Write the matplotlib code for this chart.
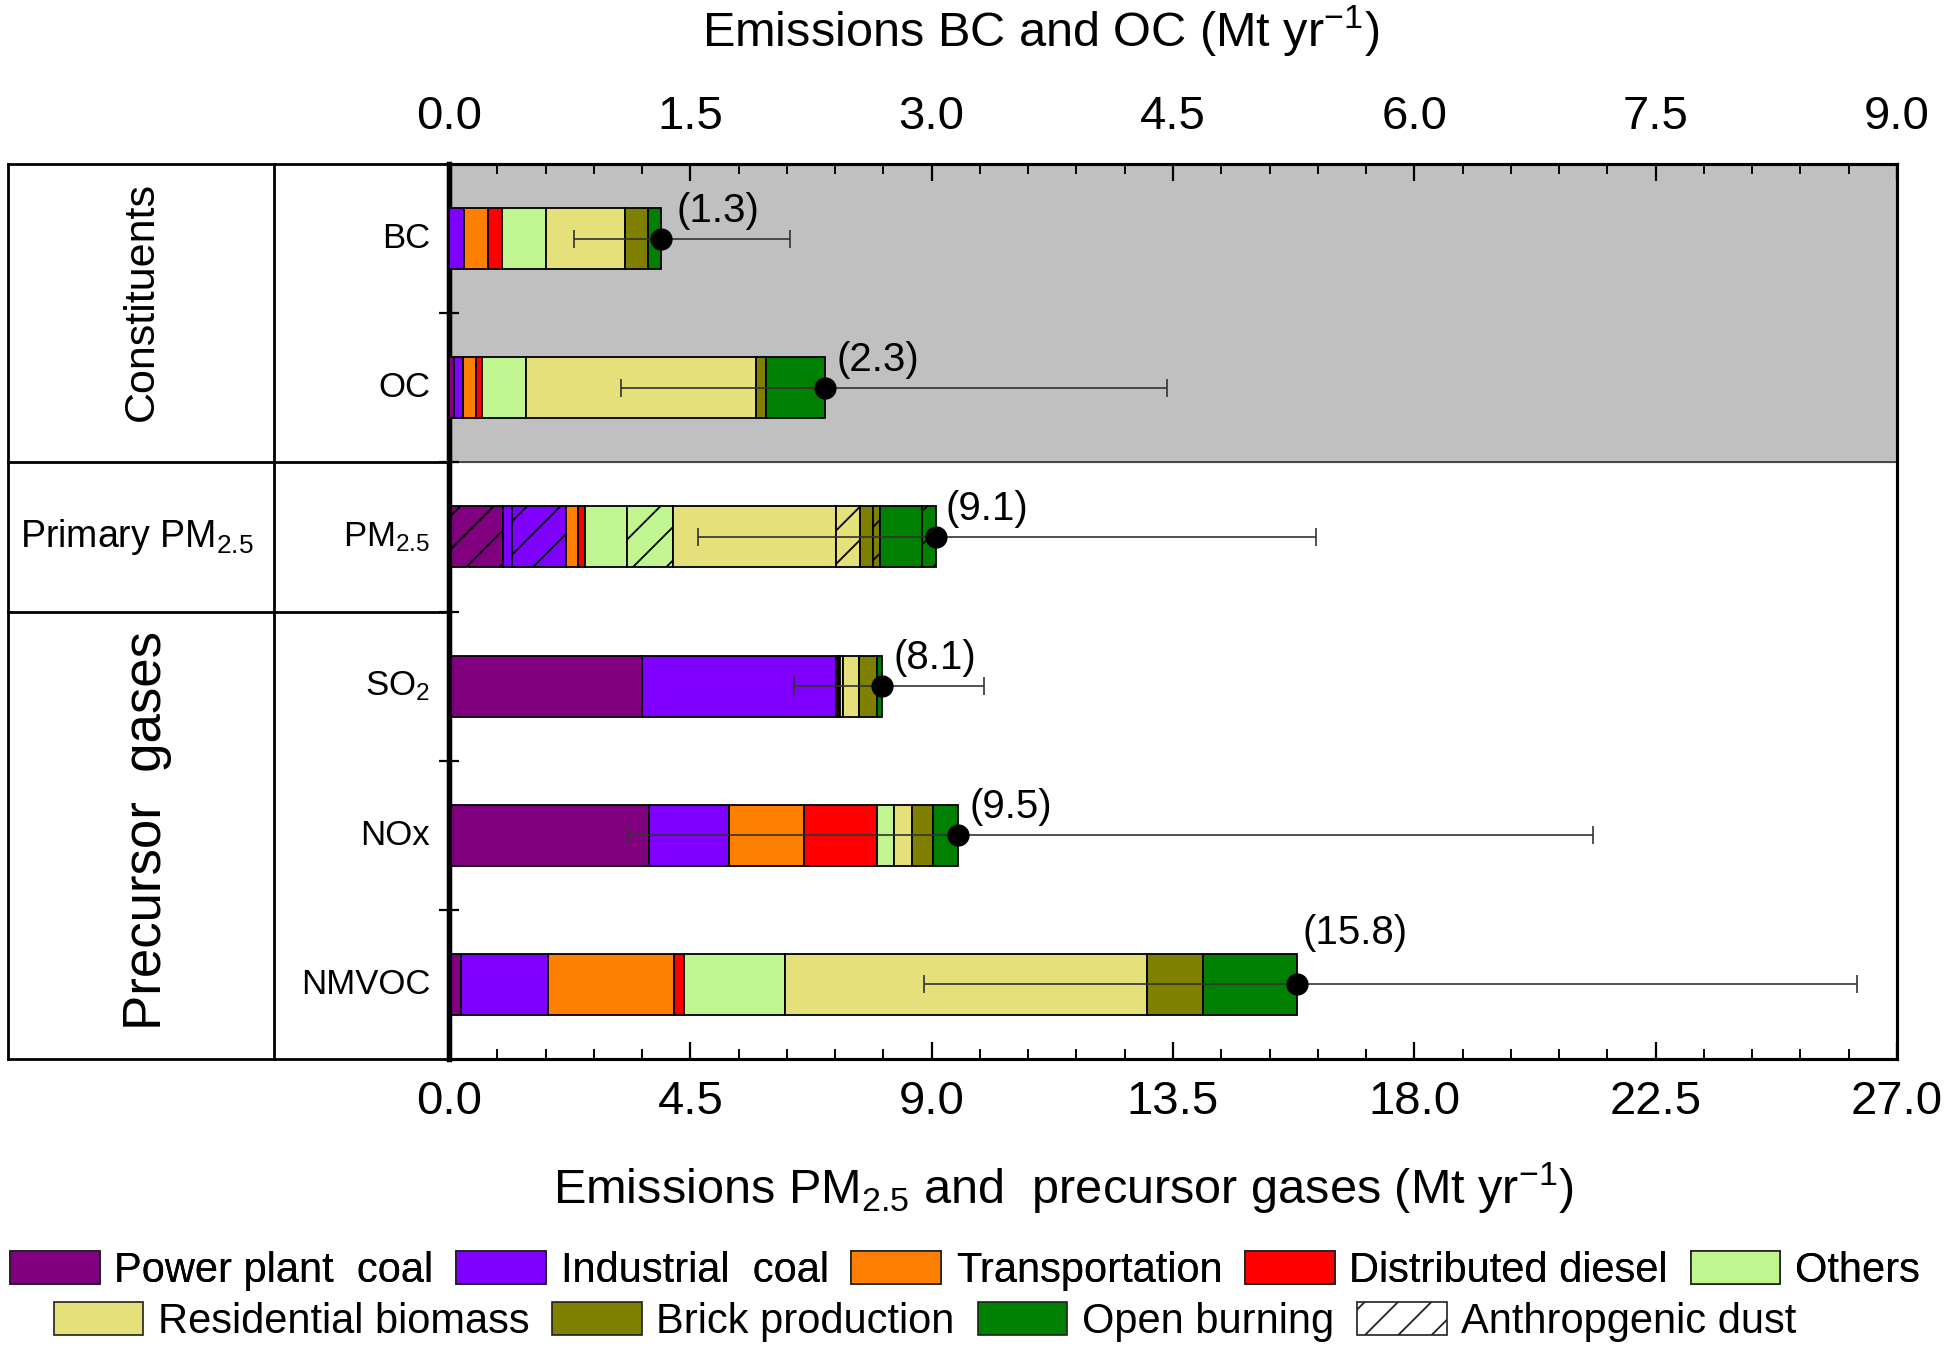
import numpy as np
import matplotlib
matplotlib.use('Agg')
import matplotlib.pyplot as plt
from matplotlib.patches import Patch
from matplotlib.ticker import MultipleLocator, FormatStrFormatter

# ===== fonts =====
plt.rcParams['font.family'] = ['Liberation Sans', 'DejaVu Sans']
plt.rcParams['mathtext.fontset'] = 'custom'
plt.rcParams['mathtext.rm'] = 'Liberation Sans'
plt.rcParams['mathtext.it'] = 'Liberation Sans:italic'
plt.rcParams['mathtext.bf'] = 'Liberation Sans:bold'
plt.rcParams['hatch.linewidth'] = 1.3

# ===== data (Mt/yr) =====
sectors = ['Power plant  coal', 'Industrial  coal', 'Transportation', 'Distributed diesel',
           'Others', 'Residential biomass', 'Brick production', 'Open burning']
sector_colors = ['#800080', '#8000FF', '#FF8000', '#FF0000',
                 '#C0F590', '#E6E07B', '#808000', '#008000']

species = ['BC', 'OC', 'PM$_{2.5}$', 'SO$_2$', 'NOx', 'NMVOC']

# BC / OC on the top axis
bc = [0.0, 0.093, 0.151, 0.087, 0.27, 0.493, 0.145, 0.077]
oc = [0.03, 0.056, 0.083, 0.037, 0.274, 1.427, 0.066, 0.365]
# primary PM2.5, split into non-dust and anthropogenic dust part of each sector
pm25 = [0.0, 0.18, 0.22, 0.145, 0.78, 3.05, 0.25, 0.78]
pm25_dust = [1.0, 1.0, 0.0, 0.0, 0.85, 0.43, 0.13, 0.27]
so2 = [3.59, 3.62, 0.05, 0.04, 0.04, 0.31, 0.33, 0.10]
nox = [3.72, 1.50, 1.40, 1.36, 0.31, 0.35, 0.39, 0.46]
nmvoc = [0.22, 1.63, 2.35, 0.18, 1.88, 6.76, 1.04, 1.75]

total_labels = ['1.3', '2.3', '9.1', '8.1', '9.5', '15.8']
err_low = [0.78, 1.07, 4.64, 6.44, 3.33, 8.85]
err_high = [2.12, 4.46, 16.16, 9.98, 21.33, 26.26]

groups = ['Constituents', 'Primary PM$_{2.5}$', 'Precursor  gases']

# ===== figure =====
W, H = 1950, 1352
fig = plt.figure(figsize=(W / 100, H / 100), dpi=100)

ax_l, ax_r, ax_t, ax_b = 449, 1897, 164, 1059
ax = fig.add_axes([ax_l / W, 1 - ax_b / H, (ax_r - ax_l) / W, (ax_b - ax_t) / H])
ax_top = ax.twiny()

ax.set_ylim(6, 0)
ax.set_xlim(0, 27)
ax_top.set_xlim(0, 9)

# gray background for the constituents rows
ax.axhspan(0, 2, color='#C0C0C0', zorder=0)
ax.axhline(2, color='#303030', lw=1.2, zorder=1)

bar_h = 0.41


def stack(a, y, vals, dust=None):
    left = 0.0
    for i, v in enumerate(vals):
        if v > 0:
            a.barh(y, v, left=left, height=bar_h, color=sector_colors[i],
                   edgecolor='black', linewidth=1.3, zorder=3)
            left += v
        if dust is not None and dust[i] > 0:
            a.barh(y, dust[i], left=left, height=bar_h, color=sector_colors[i],
                   edgecolor='black', linewidth=1.3, hatch='/', zorder=3)
            left += dust[i]
    return left


rows = [(ax_top, bc, None), (ax_top, oc, None), (ax, pm25, pm25_dust),
        (ax, so2, None), (ax, nox, None), (ax, nmvoc, None)]
label_offsets = [(11, 20), (8, 20), (7, 20), (8, 20), (8, 20), (4, 37)]

for k, (a, vals, dust) in enumerate(rows):
    y = k + 0.5
    tot = stack(a, y, vals, dust)
    a.errorbar(tot, y, xerr=[[tot - err_low[k]], [err_high[k] - tot]], fmt='none',
               ecolor='#333333', elinewidth=1.2, capsize=6.5, capthick=1.2, zorder=5)
    a.plot(tot, y, 'o', color='black', ms=15, zorder=6)
    a.annotate('(' + total_labels[k] + ')', xy=(tot, y), xytext=label_offsets[k],
               textcoords='offset points', ha='left', va='center', fontsize=29, zorder=7)

# ===== ticks =====
ax.set_xticks(np.arange(0, 27.01, 4.5))
ax.xaxis.set_minor_locator(MultipleLocator(0.9))
ax.xaxis.set_major_formatter(FormatStrFormatter('%.1f'))
ax.tick_params(axis='x', which='major', direction='in', length=12, width=1.6,
               labelsize=34, pad=15, top=False)
ax.tick_params(axis='x', which='minor', direction='in', length=7, width=1.4, top=False)

ax_top.set_xticks(np.arange(0, 9.01, 1.5))
ax_top.xaxis.set_minor_locator(MultipleLocator(0.3))
ax_top.xaxis.set_major_formatter(FormatStrFormatter('%.1f'))
ax_top.tick_params(axis='x', which='major', direction='in', length=12, width=1.6,
                   labelsize=34, pad=18, bottom=False)
ax_top.tick_params(axis='x', which='minor', direction='in', length=7, width=1.4, bottom=False)

ax.set_yticks([1, 2, 3, 4, 5])
ax.tick_params(axis='y', direction='inout', length=14, width=1.6, labelleft=False, right=False)

for a in (ax, ax_top):
    for s in a.spines.values():
        s.set_linewidth(2.2)
    a.spines['left'].set_linewidth(3.8)

# ===== left table =====
tab = fig.add_axes([8 / W, 1 - ax_b / H, (ax_l - 8) / W, (ax_b - ax_t) / H])
tab.set_xlim(0, ax_l - 8)
tab.set_ylim(6, 0)
tab.axis('off')
tw = ax_l - 8
lk = dict(color='black', lw=2.0, clip_on=False, solid_capstyle='projecting')
tab.plot([0, 0], [0, 6], **lk)
tab.plot([0, tw], [0, 0], **lk)
tab.plot([0, tw], [6, 6], **lk)
tab.plot([266, 266], [0, 6], **lk)
tab.plot([0, tw], [2, 2], **lk)
tab.plot([0, tw], [3, 3], **lk)

tab.text(134, 0.92, groups[0], rotation=90, ha='center', va='center', fontsize=31)
tab.text(129, 2.5, groups[1], ha='center', va='center', fontsize=27)
tab.text(139, 4.47, groups[2], rotation=90, ha='center', va='center', fontsize=38)
for k, name in enumerate(species):
    tab.text(422, k + 0.5, name, ha='right', va='center', fontsize=25)

# ===== axis titles =====
fig.text(1041 / W, 1 - 47 / H, 'Emissions BC and OC (Mt yr$^{-1}$)',
         ha='center', va='baseline', fontsize=35)
fig.text(1063 / W, 1 - 1204 / H, 'Emissions PM$_{2.5}$ and  precursor gases (Mt yr$^{-1}$)',
         ha='center', va='baseline', fontsize=35)

# ===== legend (two centred rows) =====
handles = [Patch(facecolor=c, edgecolor='#202020', linewidth=1.2, label=s)
           for c, s in zip(sector_colors, sectors)]
handles.append(Patch(facecolor='white', edgecolor='#202020', linewidth=1.2,
                     hatch='/', label='Anthropgenic dust'))
lg_kw = dict(frameon=False, fontsize=30, handlelength=2.15, handleheight=0.85,
             handletextpad=0.35, columnspacing=0.55, borderpad=0, borderaxespad=0)
leg1 = fig.legend(handles=handles[:5], ncol=5, loc='center',
                  bbox_to_anchor=(965 / W, 1 - 1271 / H), **lg_kw)
fig.add_artist(leg1)
fig.legend(handles=handles[5:], ncol=4, loc='center',
           bbox_to_anchor=(925 / W, 1 - 1322 / H), **lg_kw)

fig.savefig('out.png', dpi=100)
